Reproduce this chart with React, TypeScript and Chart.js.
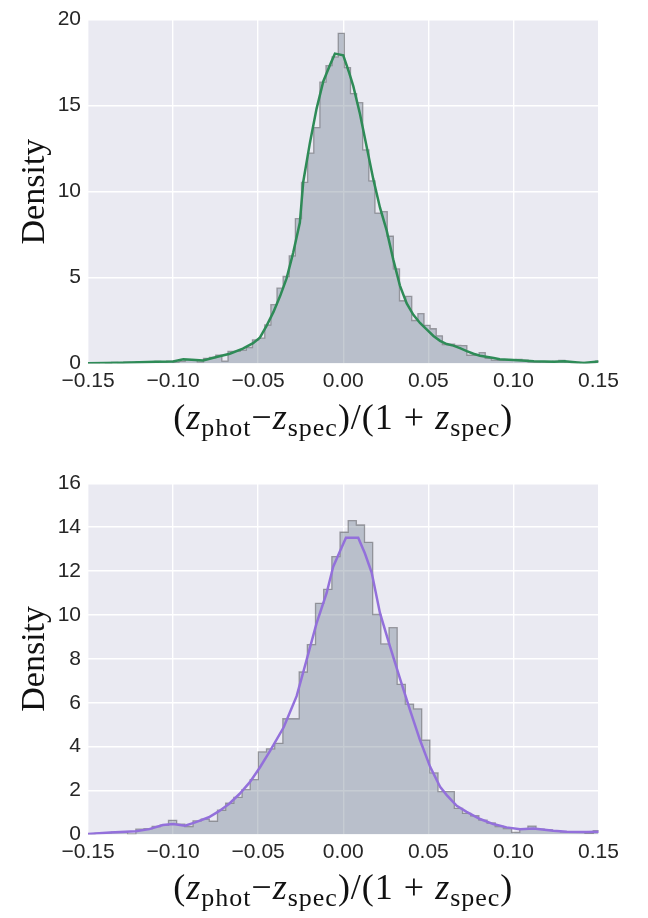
import React, { useEffect, useRef } from 'react';
import { Chart, registerables } from 'chart.js';

Chart.register(...registerables);

// ---------- data ----------
const X_TICKS = [-0.15, -0.1, -0.05, 0, 0.05, 0.1, 0.15];

const TOP_Y_TICKS = [0, 5, 10, 15, 20];
const TOP_BIN_START = -0.15054;
const TOP_BIN_WIDTH = 0.0036;
const TOP_DENSITY = [
  0.03, 0.02, 0.05, 0.03, 0.06, 0.05, 0.08, 0.06, 0.1, 0.08, 0.1, 0.12, 0.1, 0.14,
  0.08, 0.12, 0.23, 0.19, 0.1, 0.3, 0.35,
  0.48, 0.14, 0.7, 0.7, 0.78, 0.93, 1.37, 1.47, 2.24, 3.42,
  4.38, 5.06, 6.26, 8.42, 10.53, 12.23, 13.72, 16.36, 17.32, 17.83,
  19.2, 17.21, 15.7, 15.17, 12.42, 10.62, 8.75, 8.83, 7.4, 5.5,
  3.65, 3.9, 2.5, 2.9, 2.22, 2.02, 1.61, 1.1, 1.12, 1.05,
  1.04, 0.48, 0.47, 0.63, 0.3, 0.2, 0.19, 0.2, 0.22, 0.24,
  0.2, 0.1, 0.08, 0.1, 0.08, 0.12, 0.18, 0.1, 0.05, 0.06, 0.04, 0.05, 0.13,
];
const TOP_KDE_X = [
  -0.15, -0.14, -0.13, -0.12, -0.11, -0.1, -0.094, -0.089, -0.0824, -0.0745, -0.0667,
  -0.059, -0.053, -0.049, -0.045, -0.041, -0.037, -0.0333, -0.0294, -0.0255, -0.0235,
  -0.0196, -0.0157, -0.0117, -0.0078, -0.0049, 0.0, 0.0035, 0.0059, 0.0098, 0.0137,
  0.0176, 0.0216, 0.0255, 0.0294, 0.0333, 0.0373, 0.0412, 0.0451, 0.049, 0.053, 0.0569,
  0.0608, 0.0647, 0.0686, 0.0726, 0.0765, 0.0804, 0.0884, 0.092, 0.1, 0.112, 0.124,
  0.13, 0.141, 0.15,
];
const TOP_KDE_Y = [
  0.02, 0.03, 0.05, 0.07, 0.1, 0.12, 0.24, 0.22, 0.17, 0.38, 0.57,
  0.86, 1.18, 1.5, 2.2, 3.0, 3.95, 4.95, 6.45, 8.2, 10.57,
  12.83, 14.81, 16.42, 17.36, 18.02, 17.92, 16.9, 16.13, 14.53, 12.64,
  10.75, 9.06, 7.74, 6.04, 4.53, 3.49, 2.83, 2.36, 1.98, 1.6, 1.32,
  1.13, 1.04, 0.89, 0.72, 0.57, 0.45, 0.32, 0.25, 0.2, 0.13, 0.1,
  0.13, 0.03, 0.11,
];

const BOTTOM_Y_TICKS = [0, 2, 4, 6, 8, 10, 12, 14, 16];
const BOTTOM_BIN_START = -0.1507;
const BOTTOM_BIN_WIDTH = 0.0048;
const BOTTOM_DENSITY = [
  0.03, 0.05, 0.08, 0.1, 0.12, 0.02, 0.24, 0.26, 0.36, 0.42,
  0.64, 0.47, 0.36, 0.62, 0.7, 0.6, 1.1, 1.42, 1.69, 2.04,
  2.5, 3.76, 3.9, 4.15, 5.27, 5.27, 7.4, 8.65, 10.53, 11.17,
  12.66, 13.77, 14.3, 14.1, 13.31, 10.02, 8.68, 9.42, 6.84, 5.94,
  5.72, 4.3, 2.8, 1.95, 1.95, 1.19, 0.96, 0.85, 0.65, 0.52,
  0.36, 0.27, 0.09, 0.24, 0.38, 0.24, 0.21, 0.17, 0.12, 0.09,
  0.09, 0.05, 0.17,
];
const BOTTOM_KDE_X = [
  -0.15, -0.137, -0.122, -0.114, -0.106, -0.1, -0.093, -0.087, -0.079, -0.073, -0.067,
  -0.061, -0.055, -0.049, -0.043, -0.035, -0.0274, -0.0216, -0.0157, -0.0098, -0.0059,
  -0.002, 0.0016, 0.0088, 0.0127, 0.0167, 0.0216, 0.0275, 0.0333, 0.0392, 0.0451,
  0.051, 0.0569, 0.0608, 0.0667, 0.0725, 0.0804, 0.0882, 0.096, 0.1039, 0.1118,
  0.1235, 0.1314, 0.143, 0.151,
];
const BOTTOM_KDE_Y = [
  0.02, 0.09, 0.14, 0.24, 0.43, 0.47, 0.4, 0.55, 0.78, 1.06, 1.4,
  1.84, 2.37, 3.05, 3.81, 4.88, 6.3, 7.93, 9.62, 10.99, 12.2,
  12.89, 13.52, 13.52, 12.81, 11.93, 10.08, 8.56, 7.11, 5.67, 4.3,
  3.09, 2.17, 1.79, 1.3, 1.03, 0.7, 0.47, 0.32, 0.24, 0.27,
  0.17, 0.12, 0.11, 0.12,
];

// ---------- helpers ----------
const histPoints = (start: number, width: number, vals: number[]) => {
  const pts = vals.map((v, i) => ({ x: start + i * width, y: v }));
  pts.push({ x: start + vals.length * width, y: vals[vals.length - 1] });
  return pts;
};
const linePoints = (xs: number[], ys: number[]) => xs.map((x, i) => ({ x, y: ys[i] }));

const fmtX = (v: number) => {
  if (Math.abs(v) < 1e-9) return '0.00';
  const s = Math.abs(v).toFixed(2);
  return v < 0 ? '\u2212' + s : s;
};

const bgPlugin = {
  id: 'plotBg',
  beforeDraw(chart: any) {
    const { ctx, chartArea } = chart;
    if (!chartArea) return;
    ctx.save();
    ctx.fillStyle = '#EAEAF2';
    ctx.fillRect(chartArea.left, chartArea.top, chartArea.right - chartArea.left, chartArea.bottom - chartArea.top);
    ctx.restore();
  },
};

const SERIF = '"Liberation Serif", "DejaVu Serif", serif';
const SANS = '"Liberation Sans", Arial, sans-serif';

const xLabelPlugin = {
  id: 'xLabel',
  afterDraw(chart: any, _args: any, opts: any) {
    const { ctx, chartArea } = chart;
    const main = opts.size || 32;
    const sub = opts.subSize || 22;
    const segs = [
      { t: '(', it: false, sub: false },
      { t: 'z', it: true, sub: false },
      { t: 'phot', it: false, sub: true },
      { t: '\u2212', it: false, sub: false },
      { t: 'z', it: true, sub: false },
      { t: 'spec', it: false, sub: true },
      { t: ')/(1', it: false, sub: false },
      { t: ' + ', it: false, sub: false },
      { t: 'z', it: true, sub: false },
      { t: 'spec', it: false, sub: true },
      { t: ')', it: false, sub: false },
    ];
    ctx.save();
    try {
      (ctx as any).letterSpacing = opts.spacing || '0px';
    } catch (e) {}
    const fontOf = (s: any) => `${s.it ? 'italic ' : ''}${s.sub ? sub : main}px ${SERIF}`;
    let total = 0;
    const widths = segs.map((s) => {
      ctx.font = fontOf(s);
      const w = ctx.measureText(s.t).width;
      total += w;
      return w;
    });
    let x = (chartArea.left + chartArea.right) / 2 - total / 2;
    const y = chartArea.bottom + (opts.offset || 64);
    ctx.fillStyle = '#111111';
    ctx.textBaseline = 'alphabetic';
    ctx.textAlign = 'left';
    segs.forEach((s, i) => {
      ctx.font = fontOf(s);
      ctx.fillText(s.t, x, y + (s.sub ? opts.subShift || 6 : 0));
      x += widths[i];
    });
    ctx.restore();
  },
};

type PanelProps = {
  height: number;
  top: number;
  bottom: number;
  yMax: number;
  yTicks: number[];
  binStart: number;
  binWidth: number;
  density: number[];
  kdeX: number[];
  kdeY: number[];
  kdeColor: string;
};

const W = 648;
const PLOT_LEFT = 88;
const PLOT_RIGHT = 598.5;

function Panel(p: PanelProps) {
  const ref = useRef<HTMLCanvasElement | null>(null);
  useEffect(() => {
    if (!ref.current) return;
    const chart = new Chart(ref.current, {
      type: 'line',
      data: {
        datasets: [
          {
            data: histPoints(p.binStart, p.binWidth, p.density),
            stepped: 'before',
            fill: 'origin',
            backgroundColor: 'rgba(112,128,144,0.4)',
            borderColor: 'rgba(105,105,110,0.6)',
            borderWidth: 1.3,
            pointRadius: 0,
            order: 2,
          },
          {
            data: linePoints(p.kdeX, p.kdeY),
            fill: false,
            borderColor: p.kdeColor,
            borderWidth: 2.5,
            tension: 0,
            pointRadius: 0,
            order: 1,
          },
        ],
      },
      options: {
        responsive: false,
        animation: false,
        events: [],
        layout: { padding: { left: 0, right: W - PLOT_RIGHT, top: p.top, bottom: 0 } },
        plugins: {
          legend: { display: false },
          tooltip: { enabled: false },
          xLabel: { size: 36, subSize: 26, subShift: 7, offset: 65, spacing: '1px' },
        } as any,
        scales: {
          x: {
            type: 'linear',
            min: -0.15,
            max: 0.15,
            afterFit: (s: any) => {
              s.height = p.height - p.bottom;
            },
            afterBuildTicks: (s: any) => {
              s.ticks = X_TICKS.map((v) => ({ value: v }));
            },
            ticks: {
              callback: (v: any) => fmtX(Number(v)),
              font: { family: SANS, size: 21 },
              color: '#262626',
              padding: 5,
              maxRotation: 0,
              autoSkip: false,
            },
            grid: { color: '#ffffff', lineWidth: 1.4, drawTicks: false },
            border: { display: false },
          },
          y: {
            type: 'linear',
            min: 0,
            max: p.yMax,
            afterFit: (s: any) => {
              s.width = PLOT_LEFT;
            },
            afterBuildTicks: (s: any) => {
              s.ticks = p.yTicks.map((v) => ({ value: v }));
            },
            ticks: {
              callback: (v: any) => String(v),
              font: { family: SANS, size: 21 },
              color: '#262626',
              padding: 7,
            },
            grid: { color: '#ffffff', lineWidth: 1.4, drawTicks: false },
            border: { display: false },
            title: {
              display: true,
              text: 'Density',
              font: { family: SERIF, size: 34 },
              color: '#111111',
              padding: { top: 15, bottom: 0 },
            },
          },
        },
      },
      plugins: [bgPlugin, xLabelPlugin],
    });
    return () => chart.destroy();
  }, []);
  return <canvas ref={ref} width={W} height={p.height} style={{ display: 'block', width: W, height: p.height }} />;
}

export default function App() {
  return (
    <div style={{ position: 'absolute', left: 0, top: 0, width: W, height: 918, background: '#ffffff' }}>
      <Panel
        height={459}
        top={13.5}
        bottom={363.5}
        yMax={20}
        yTicks={TOP_Y_TICKS}
        binStart={TOP_BIN_START}
        binWidth={TOP_BIN_WIDTH}
        density={TOP_DENSITY}
        kdeX={TOP_KDE_X}
        kdeY={TOP_KDE_Y}
        kdeColor="#2E8B57"
      />
      <Panel
        height={459}
        top={24.3}
        bottom={375.4}
        yMax={16}
        yTicks={BOTTOM_Y_TICKS}
        binStart={BOTTOM_BIN_START}
        binWidth={BOTTOM_BIN_WIDTH}
        density={BOTTOM_DENSITY}
        kdeX={BOTTOM_KDE_X}
        kdeY={BOTTOM_KDE_Y}
        kdeColor="#9370DB"
      />
    </div>
  );
}
